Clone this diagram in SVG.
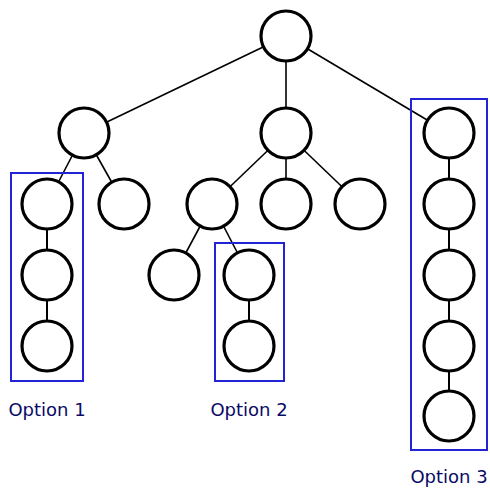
<svg xmlns="http://www.w3.org/2000/svg" width="490" height="489" viewBox="0 0 490 489">
<style>
.n{fill:#fff;stroke:#000;stroke-width:3.2}
.e{stroke:#000;stroke-width:1.6;fill:none}
.c{stroke:#000;stroke-width:2;fill:none}
.b{fill:none;stroke:#2323d6;stroke-width:2}
.t{font-family:"DejaVu Sans",Verdana,sans-serif;font-size:18px;fill:#0a0a66;text-anchor:middle}
</style>
<rect width="490" height="489" fill="#fff"/>
<g id="connectors">
<line class="e" x1="286" y1="36" x2="84" y2="133"/>
<line class="e" x1="286" y1="36" x2="286" y2="133"/>
<line class="e" x1="286" y1="36" x2="449" y2="133"/>
<line class="e" x1="84" y1="133" x2="47" y2="204"/>
<line class="e" x1="84" y1="133" x2="124" y2="204"/>
<line class="e" x1="286" y1="133" x2="212" y2="204"/>
<line class="e" x1="286" y1="133" x2="286" y2="204"/>
<line class="e" x1="286" y1="133" x2="360" y2="204"/>
<line class="e" x1="212" y1="204" x2="174" y2="275"/>
<line class="e" x1="212" y1="204" x2="249" y2="275"/>
<line class="c" x1="47" y1="204" x2="47" y2="346"/>
<line class="c" x1="249" y1="275" x2="249" y2="346"/>
<line class="c" x1="449" y1="133" x2="449" y2="416"/>
</g>
<g id="boxes">
<rect class="b" x="11" y="173" width="72" height="208"/>
<rect class="b" x="215" y="243" width="69" height="138"/>
<rect class="b" x="411" y="99" width="76" height="351"/>
</g>
<g id="root"><circle class="n" cx="286" cy="36" r="25"/></g>
<g id="a"><circle class="n" cx="84" cy="133" r="25"/></g>
<g id="b"><circle class="n" cx="286" cy="133" r="25"/></g>
<g id="a1"><circle class="n" cx="47" cy="204" r="25"/></g>
<g id="a1a"><circle class="n" cx="47" cy="275" r="25"/></g>
<g id="a1b"><circle class="n" cx="47" cy="346" r="25"/></g>
<g id="a2"><circle class="n" cx="124" cy="204" r="25"/></g>
<g id="b1"><circle class="n" cx="212" cy="204" r="25"/></g>
<g id="b2"><circle class="n" cx="286" cy="204" r="25"/></g>
<g id="b3"><circle class="n" cx="360" cy="204" r="25"/></g>
<g id="b1a"><circle class="n" cx="174" cy="275" r="25"/></g>
<g id="b1b"><circle class="n" cx="249" cy="275" r="25"/></g>
<g id="b1b1"><circle class="n" cx="249" cy="346" r="25"/></g>
<g id="c1"><circle class="n" cx="449" cy="133" r="25"/></g>
<g id="c2"><circle class="n" cx="449" cy="204" r="25"/></g>
<g id="c3"><circle class="n" cx="449" cy="275" r="25"/></g>
<g id="c4"><circle class="n" cx="449" cy="346" r="25"/></g>
<g id="c5"><circle class="n" cx="449" cy="416" r="25"/></g>
<g id="labels">
<text class="t" x="47" y="416">Option 1</text>
<text class="t" x="249" y="416">Option 2</text>
<text class="t" x="449" y="483">Option 3</text>
</g>
</svg>
